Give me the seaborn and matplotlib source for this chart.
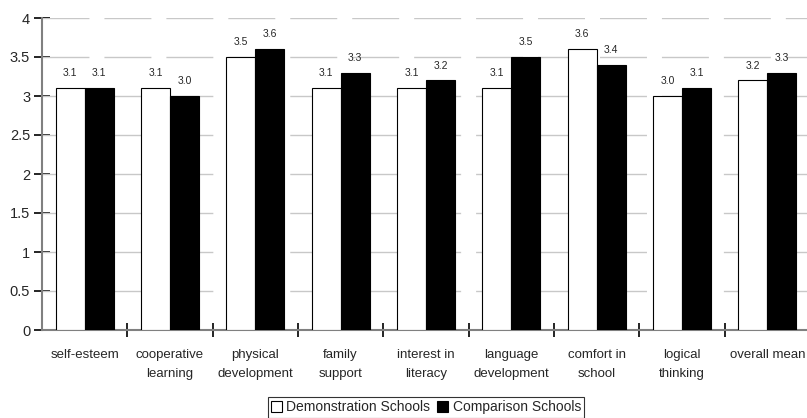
import matplotlib
matplotlib.use("Agg")
import matplotlib.pyplot as plt
import seaborn as sns
import pandas as pd
from matplotlib.patches import Patch

categories = ["self-esteem", "cooperative\nlearning", "physical\ndevelopment", "family\nsupport",
              "interest in\nliteracy", "language\ndevelopment", "comfort in\nschool",
              "logical\nthinking", "overall mean"]
demo = [3.1, 3.1, 3.5, 3.1, 3.1, 3.1, 3.6, 3.0, 3.2]
comp = [3.1, 3.0, 3.6, 3.3, 3.2, 3.5, 3.4, 3.1, 3.3]
series = ["Demonstration Schools", "Comparison Schools"]
yticks = [0, 0.5, 1, 1.5, 2, 2.5, 3, 3.5, 4]

df = pd.DataFrame({
    "category": categories * 2,
    "value": demo + comp,
    "school": [series[0]] * len(categories) + [series[1]] * len(categories),
})

sns.set_style("white")
plt.rcParams["font.family"] = ["Liberation Sans", "DejaVu Sans"]

W, H = 807, 418
fig = plt.figure(figsize=(W / 100, H / 100), dpi=100)
x0, x1 = 42, 810
ytop, ybot = 18, 330
ax = fig.add_axes([x0 / W, 1 - ybot / H, (x1 - x0) / W, (ybot - ytop) / H])

sns.barplot(data=df, x="category", y="value", hue="school", order=categories,
            hue_order=series, palette=["white", "black"], edgecolor="black",
            linewidth=0.8, width=0.68, ax=ax, legend=False, zorder=3)

ax.set_xlim(-0.5, len(categories) - 0.5)
ax.set_ylim(0, 4)
ax.set_yticks(yticks)
ax.set_yticklabels([f"{t:g}" for t in yticks], fontsize=10.5)
for t in yticks[1:]:
    ax.axhline(t, color="#c8c8c8", lw=1.0, dashes=(33.8, 10.8), zorder=1)

ax.set_xticks(range(len(categories)))
ax.set_xticklabels(categories, fontsize=9.5, linespacing=1.75)
ax.tick_params(axis="x", which="major", length=0, pad=14, bottom=False)
# category boundary ticks
ax.set_xticks([i + 0.5 for i in range(len(categories))], minor=True)
ax.tick_params(axis="x", which="minor", direction="inout", length=10, width=1.2,
               color="black", bottom=True)
ax.tick_params(axis="y", direction="inout", length=11, width=1.2, color="black",
               left=True, pad=3)

for s in ["top", "right"]:
    ax.spines[s].set_visible(False)
for s in ["left", "bottom"]:
    ax.spines[s].set_color("#808080")
    ax.spines[s].set_linewidth(1.5)
    ax.spines[s].set_zorder(2)
ax.set_xlabel("")
ax.set_ylabel("")

for cont in ax.containers:
    ax.bar_label(cont, fmt="%.1f", padding=7, fontsize=7.5)

handles = [Patch(facecolor="white", edgecolor="black", lw=0.8),
           Patch(facecolor="black", edgecolor="black", lw=0.8)]
leg = fig.legend(handles, series, loc="upper center",
                 bbox_to_anchor=((x0 + x1) / 2 / W, 1 - 397 / H),
                 ncol=2, frameon=True, fontsize=10, handlelength=0.8, handleheight=0.8,
                 handletextpad=0.3, columnspacing=0.5, borderpad=0.25, fancybox=False,
                 borderaxespad=0)
leg.get_frame().set_edgecolor("black")
leg.get_frame().set_linewidth(0.8)

fig.savefig("out.png", dpi=100)
